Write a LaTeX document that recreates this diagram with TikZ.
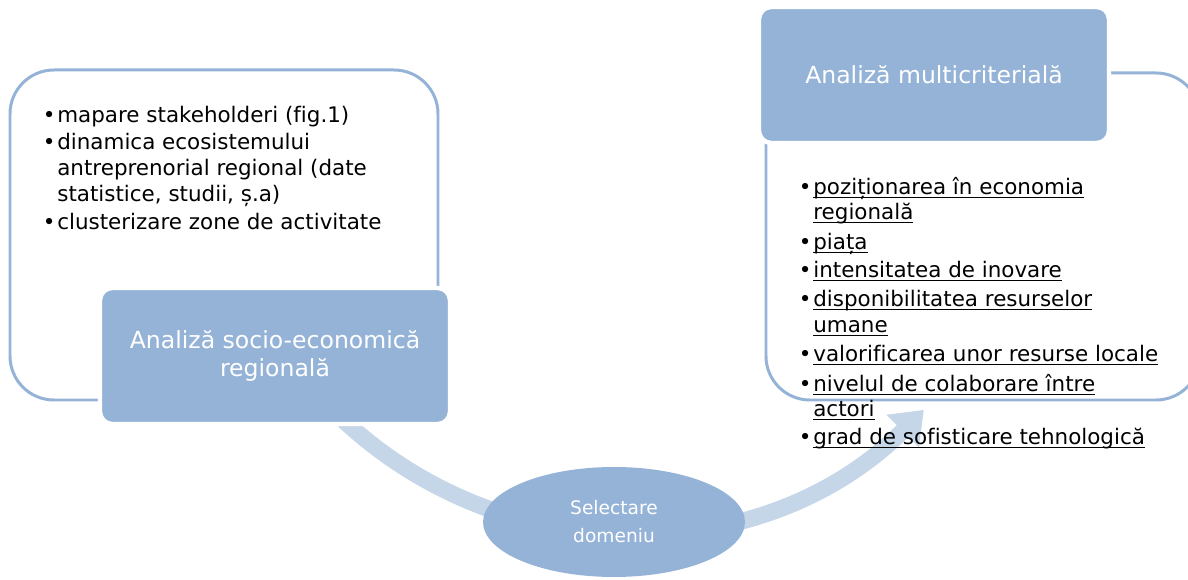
\documentclass[tikz,border=0pt]{standalone}
\usepackage{fontspec}
\setmainfont{DejaVu Sans}[Ligatures=CommonOff]
\usetikzlibrary{positioning,shapes.geometric,arrows.meta}

\definecolor{boxblue}{RGB}{149,179,215}
\definecolor{arcblue}{RGB}{197,214,232}

\tikzset{
  framebox/.style={draw=boxblue, line width=1.7pt, rounded corners=25pt},
  titlebox/.style={fill=boxblue, draw=white, line width=2.5pt, rounded corners=7pt,
    minimum width=7cm, minimum height=2.72cm, text=white, align=center,
    font=\fontsize{13.4}{15.5}\selectfont},
  item/.style={anchor=mid west, inner sep=0pt, font=\fontsize{12.2}{14}\selectfont},
}
\newcommand{\bul}{\llap{\textbullet\hspace{1pt}}}
\newcommand{\ul}[1]{\underline{\smash{#1}}}

\begin{document}
\begin{tikzpicture}[x=0.02cm, y=-0.02cm]
    \useasboundingbox (0,0) rectangle (1188,580);
    \clip (0,0) rectangle (1188,580);

    % Draw the curved arrow (behind everything)
    \coordinate (arcstart) at (338,415);
    \draw[arcblue, line width=9.5pt, -{Triangle[width=25pt, length=17pt]}]
      (arcstart) arc[start angle=226, end angle=315, radius=8.36cm];

    % Draw the two frames
    \draw[framebox] (10,70) rectangle (438,400);
    \draw[framebox] (766,73) rectangle (1200,400);

    % Title boxes
    \node[titlebox] (socio) at (275,356) {Analiză socio-economică\\regională};
    \node[titlebox] (multi) at (934,75) {Analiză multicriterială};

    % Middle ellipse
    \node[ellipse, fill=boxblue, minimum width=5.24cm, minimum height=2.2cm, inner sep=0pt,
      text=white, align=center, font=\fontsize{10.6}{16}\selectfont] (domeniu) at (614,522)
      {Selectare\\domeniu};

    % Left list
    \foreach \n/\y/\t in {a/118/{\bul mapare stakeholderi (fig.1)}, b/145/{\bul dinamica ecosistemului},
      c/171/{antreprenorial regional (date}, d/197/{statistice, studii, ș.a)},
      e/225/{\bul clusterizare zone de activitate}} {
      \node[item] (left-\n) at (57,\y) {\t};
    }

    % Right list (underlined)
    \foreach \n/\y/\t in {a/190/{\bul\ul{poziționarea în economia}}, b/215/{\ul{regională}},
      c/245/{\bul\ul{piața}}, d/273/{\bul\ul{intensitatea de inovare}},
      e/302/{\bul\ul{disponibilitatea resurselor}}, f/328/{\ul{umane}},
      g/357/{\bul\ul{valorificarea unor resurse locale}}, h/387/{\bul\ul{nivelul de colaborare între}},
      i/412/{\ul{actori}}, j/440/{\bul\ul{grad de sofisticare tehnologică}}} {
      \node[item] (right-\n) at (813,\y) {\t};
    }
\end{tikzpicture}
\end{document}
